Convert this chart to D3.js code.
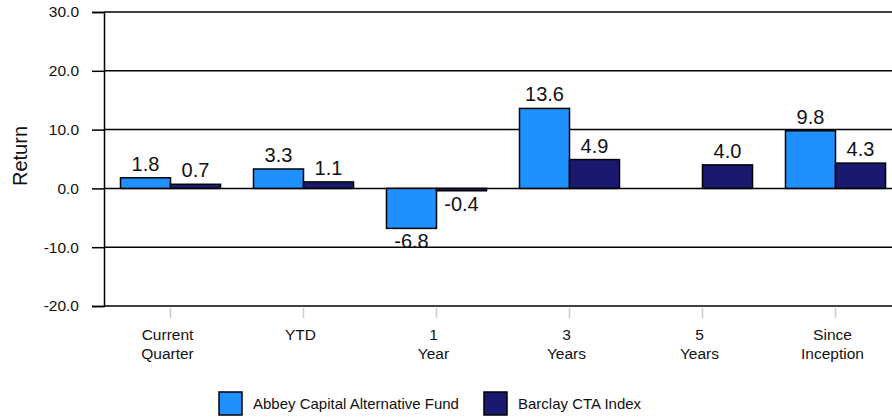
<!DOCTYPE html>
<html>
<head>
<meta charset="utf-8">
<script src="https://cdn.jsdelivr.net/npm/d3@7"></script>
<style>
  body { margin: 0; background: #fff; }
  text { font-family: "Liberation Sans", Arial, sans-serif; fill: #111; }
</style>
</head>
<body>
<div id="chart"></div>
<script>
var categories = ["Current Quarter", "YTD", "1 Year", "3 Years", "5 Years", "Since Inception"];
var categoryLines = [["Current", "Quarter"], ["YTD"], ["1", "Year"], ["3", "Years"], ["5", "Years"], ["Since", "Inception"]];
var seriesNames = ["Abbey Capital Alternative Fund", "Barclay CTA Index"];
var fundValues = [1.8, 3.3, -6.8, 13.6, null, 9.8];
var indexValues = [0.7, 1.1, -0.4, 4.9, 4.0, 4.3];
var yTicks = [-20, -10, 0, 10, 20, 30];
var colors = ["#1e90ff", "#191970"];

var svgWidth = 892, svgHeight = 417;
var plotLeft = 104, plotTop = 12, plotBottom = 306, plotRight = 902;

// plain hyphen for negatives, like the original
var fmt = d3.formatLocale({ decimal: ".", thousands: ",", grouping: [3], currency: ["", ""], minus: "-" }).format(".1f");

var svg = d3.select("#chart").append("svg")
  .attr("width", svgWidth)
  .attr("height", svgHeight);

var x = d3.scaleBand()
  .domain(categories)
  .range([plotLeft, plotRight])
  .paddingInner(0.248)
  .paddingOuter(0.124);

var xInner = d3.scaleBand()
  .domain(seriesNames)
  .range([0, x.bandwidth()]);

var y = d3.scaleLinear()
  .domain([-20, 30])
  .range([plotBottom, plotTop]);

// gridlines
svg.append("g").selectAll("line")
  .data(yTicks)
  .enter().append("line")
  .attr("x1", plotLeft).attr("x2", plotRight)
  .attr("y1", d => y(d)).attr("y2", d => y(d))
  .attr("stroke", "#000").attr("stroke-width", 1.5);

// left axis
var leftAxis = d3.axisLeft(y).tickValues(yTicks).tickFormat(fmt).tickSize(12).tickPadding(13);
var gy = svg.append("g").attr("transform", `translate(${plotLeft},0)`).call(leftAxis);
gy.select(".domain").attr("stroke", "#000").attr("stroke-width", 1.5);
gy.selectAll(".tick line").attr("stroke", "#000").attr("stroke-width", 1.5);
gy.selectAll(".tick text").attr("font-size", "15.5px").attr("font-family", "Liberation Sans, Arial, sans-serif").attr("fill", "#111");

// category ticks
svg.append("g").selectAll("line")
  .data(categories)
  .enter().append("line")
  .attr("x1", d => x(d) + x.bandwidth() / 2).attr("x2", d => x(d) + x.bandwidth() / 2)
  .attr("y1", plotBottom + 2).attr("y2", plotBottom + 12)
  .attr("stroke", "#ccc").attr("stroke-width", 1.5);

// category labels
var catLabels = svg.append("g").selectAll("text")
  .data(categories)
  .enter().append("text")
  .attr("y", plotBottom + 34)
  .attr("text-anchor", "middle")
  .attr("font-size", "15.5px");
catLabels.each(function(d, i) {
  var t = d3.select(this);
  categoryLines[i].forEach((line, j) => {
    t.append("tspan").attr("x", x(d) + x.bandwidth() / 2 - 3).attr("dy", j === 0 ? 0 : 18.5).text(line);
  });
});

// bars
var rows = categories.map((c, i) => ({ cat: c, values: [fundValues[i], indexValues[i]] }));
var groups = svg.append("g").selectAll("g")
  .data(rows)
  .enter().append("g")
  .attr("transform", d => `translate(${x(d.cat)},0)`);

groups.selectAll("rect")
  .data(d => d.values.map((v, k) => ({ name: seriesNames[k], value: v, k: k })).filter(e => e.value !== null))
  .enter().append("rect")
  .attr("x", d => xInner(d.name))
  .attr("width", xInner.bandwidth())
  .attr("y", d => y(Math.max(0, d.value)))
  .attr("height", d => Math.abs(y(d.value) - y(0)))
  .attr("fill", d => colors[d.k])
  .attr("stroke", "#000").attr("stroke-width", 1.5);

groups.selectAll("text.val")
  .data(d => d.values.map((v, k) => ({ name: seriesNames[k], value: v, k: k })).filter(e => e.value !== null))
  .enter().append("text")
  .attr("class", "val")
  .attr("x", d => xInner(d.name) + xInner.bandwidth() / 2)
  .attr("y", d => d.value >= 0 ? y(d.value) - 7 : y(d.value) + 20)
  .attr("text-anchor", "middle")
  .attr("font-size", "20px")
  .text(d => fmt(d.value));

// y label
svg.append("text")
  .attr("transform", "translate(27,156) rotate(-90)")
  .attr("text-anchor", "middle")
  .attr("font-size", "20px")
  .text("Return");

// legend
var legendX = [219, 484];
var legend = svg.append("g").selectAll("g")
  .data(seriesNames)
  .enter().append("g")
  .attr("transform", (d, i) => `translate(${legendX[i]},392)`);
legend.append("rect")
  .attr("width", 23).attr("height", 23)
  .attr("fill", (d, i) => colors[i])
  .attr("stroke", "#000").attr("stroke-width", 1.5);
legend.append("text")
  .attr("x", 34).attr("y", 17)
  .attr("font-size", "15px")
  .text(d => d);
</script>
</body>
</html>
